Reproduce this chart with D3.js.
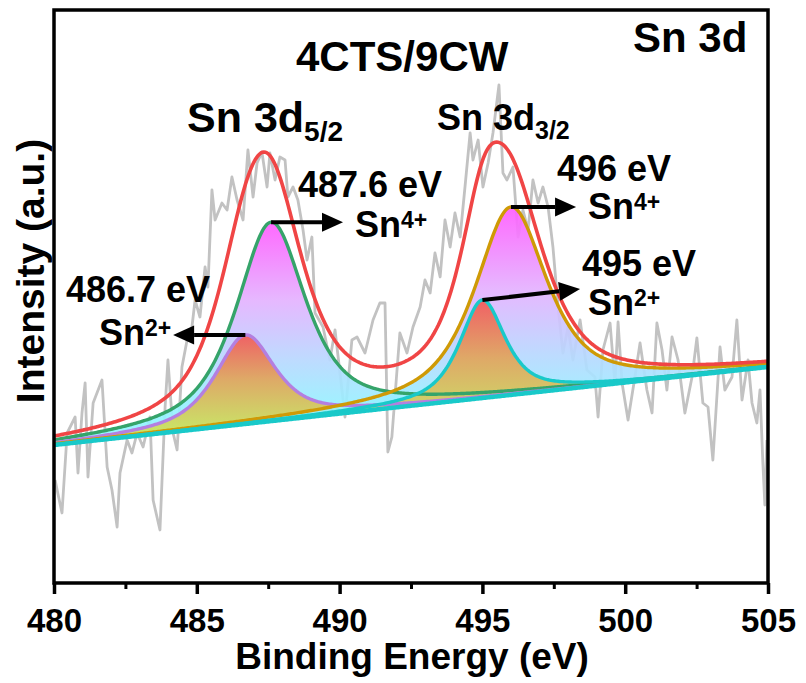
<!DOCTYPE html>
<html>
<head>
<meta charset="utf-8">
<script src="https://d3js.org/d3.v7.min.js"></script>
<style>
  html, body { margin: 0; padding: 0; background: #fff; }
  svg text { font-family: "Liberation Sans", Arial, sans-serif; font-weight: bold; fill: #000; }
</style>
</head>
<body>
<div id="chart"></div>
<script>
// raw spectrum (binding energy, intensity a.u.)
const rawE = [480.04,480.11,480.28,480.46,480.74,480.84,480.98,481.09,481.19,481.37,
  481.68,481.86,482.03,482.21,482.31,482.56,482.73,482.91,483.12,483.36,
  483.47,483.71,483.89,483.99,484.17,484.31,484.48,484.66,484.83,484.94,
  485.11,485.29,485.39,485.53,485.64,485.88,486.06,486.23,486.41,486.62,
  486.79,486.97,487.11,487.28,487.46,487.56,487.74,487.91,488.09,488.19,
  488.37,488.54,488.72,488.86,489.03,489.14,489.42,489.66,489.84,490.19,
  490.43,490.61,490.89,491.17,491.41,491.59,491.69,491.83,492.11,492.36,
  492.57,492.82,492.99,493.17,493.34,493.52,493.69,493.87,494.04,494.22,
  494.39,494.57,494.67,494.85,495.02,495.20,495.37,495.58,495.72,495.86,
  496.07,496.25,496.42,496.60,496.77,496.95,497.12,497.30,497.47,497.65,
  497.82,498.00,498.17,498.42,498.66,498.94,499.05,499.22,499.47,499.64,
  499.75,499.89,500.10,500.34,500.52,500.76,500.94,501.11,501.29,501.46,
  501.64,501.85,502.09,502.34,502.51,502.72,502.90,503.07,503.32,503.49,
  503.74,503.91,504.09,504.30,504.44,504.61,504.72,504.82,504.89,504.96];
const rawI = [103,93,70,150,166,110,170,200,106,180,
  203,116,93,56,110,143,130,150,136,166,
  83,53,176,223,150,133,216,243,256,283,
  266,316,296,393,363,380,373,406,383,363,
  433,386,420,431,396,430,403,426,423,386,
  396,383,353,323,346,270,256,223,253,166,
  243,246,230,263,280,280,131,146,250,230,
  256,276,303,290,330,306,363,336,370,346,
  396,450,423,443,396,420,450,498,410,403,
  416,346,373,353,403,380,396,376,336,276,
  230,256,223,263,213,206,166,233,260,200,
  261,200,163,206,240,193,170,260,233,193,
  246,223,170,206,245,180,176,123,236,193,
  206,263,183,223,180,160,193,120,78,143];

// background (read at a few energies)
const bgE = [480, 492.1, 505];
const bgI = [138, 176, 216];

// fitted components
const peakNames = ["Sn2+ 3d5/2", "Sn4+ 3d5/2", "Sn2+ 3d3/2", "Sn4+ 3d3/2"];
const peakCenter = [486.7, 487.6, 495.0, 496.0];
const peakHeight = [89, 199, 98, 188];
const peakFwhm = [2.5, 2.9, 1.9, 3.0];
const peakMix = [0.75, 0.75, 0.75, 0.75];   // Lorentzian fraction
const peakColor = ["#b47fe0", "#35a46a", "#19c9c9", "#cf9a06"];
const peakFill = ["sn2", "sn4", "sn2", "sn4"];
const drawOrder = [1, 0, 3, 2];

const xTicks = [480, 485, 490, 495, 500, 505];
const xMinor = [482.5, 487.5, 492.5, 497.5, 502.5];

const W = 806, H = 683;
const margin = { left: 54, top: 10, right: 38, bottom: 100 };
const x = d3.scaleLinear().domain([480, 505]).range([margin.left, W - margin.right]);
const y = d3.scaleLinear().domain([0, 573]).range([H - margin.bottom, margin.top]);
const bg = d3.scaleLinear().domain(bgE).range(bgI);

function gl(e, i) {
  const t = (e - peakCenter[i]) / peakFwhm[i];
  const m = peakMix[i];
  return peakHeight[i] * (m / (1 + 4 * t * t) + (1 - m) * Math.exp(-4 * Math.LN2 * t * t));
}

const grid = d3.range(480, 505.0001, 0.05);

const svg = d3.select("#chart").append("svg")
  .attr("width", W).attr("height", H);

const defs = svg.append("defs");
defs.append("clipPath").attr("id", "clip").append("rect")
  .attr("x", x(480)).attr("y", y(573)).attr("width", x(505) - x(480)).attr("height", y(0) - y(573));

const grads = {
  sn4: [["0%", "#ff5cff"], ["35%", "#e4b2ff"], ["62%", "#b8d8ff"], ["82%", "#98f0ff"], ["100%", "#8ef6ff"]],
  sn2: [["0%", "#f25858"], ["40%", "#e2a45a"], ["100%", "#c8f45a"]]
};
Object.keys(grads).forEach(k => {
  const g = defs.append("linearGradient").attr("id", "g-" + k)
    .attr("x1", 0).attr("y1", 0).attr("x2", 0).attr("y2", 1);
  grads[k].forEach(s => g.append("stop").attr("offset", s[0]).attr("stop-color", s[1]));
});

const plot = svg.append("g").attr("clip-path", "url(#clip)");

// raw data
plot.append("path")
  .datum(rawE.map((e, i) => [e, rawI[i]]))
  .attr("fill", "none")
  .attr("stroke", "#c2c2c2")
  .attr("stroke-width", 2.8)
  .attr("stroke-linejoin", "round")
  .attr("d", d3.line().x(d => x(d[0])).y(d => y(d[1])));

// component fills
drawOrder.forEach(i => {
  const area = d3.area()
    .x(e => x(e))
    .y0(e => y(bg(e)))
    .y1(e => y(bg(e) + gl(e, i)));
  plot.append("path")
    .datum(grid)
    .attr("fill", "url(#g-" + peakFill[i] + ")")
    .attr("fill-opacity", 0.92)
    .attr("d", area);
});

// component lines
drawOrder.forEach(i => {
  plot.append("path")
    .datum(grid)
    .attr("fill", "none")
    .attr("stroke", peakColor[i])
    .attr("stroke-width", 3.4)
    .attr("d", d3.line().x(e => x(e)).y(e => y(bg(e) + gl(e, i))));
});

// background
plot.append("path")
  .datum(grid)
  .attr("fill", "none")
  .attr("stroke", "#19c9c9")
  .attr("stroke-width", 4.5)
  .attr("d", d3.line().x(e => x(e)).y(e => y(bg(e))));

// envelope
plot.append("path")
  .datum(grid)
  .attr("fill", "none")
  .attr("stroke", "#f04545")
  .attr("stroke-width", 3.6)
  .attr("d", d3.line().x(e => x(e)).y(e => y(bg(e) + d3.sum(peakCenter, (c, i) => gl(e, i)))));

// frame
svg.append("rect")
  .attr("x", x(480)).attr("y", y(573))
  .attr("width", x(505) - x(480)).attr("height", y(0) - y(573))
  .attr("fill", "none").attr("stroke", "#000").attr("stroke-width", 3.5);

// x axis
const xAxis = svg.append("g")
  .attr("transform", `translate(0,${y(0)})`)
  .call(d3.axisBottom(x).tickValues(xTicks).tickSize(11).tickFormat(d3.format("d")));
xAxis.select(".domain").remove();
xAxis.selectAll(".tick line").attr("stroke", "#000").attr("stroke-width", 3.5);
xAxis.selectAll(".tick text").attr("font-size", 33).attr("y", 49).attr("dy", 0)
  .style("font-family", '"Liberation Sans", Arial, sans-serif').style("font-weight", "bold");
const xMin = svg.append("g")
  .attr("transform", `translate(0,${y(0)})`)
  .call(d3.axisBottom(x).tickValues(xMinor).tickSize(6).tickFormat(""));
xMin.select(".domain").remove();
xMin.selectAll(".tick line").attr("stroke", "#000").attr("stroke-width", 3);

svg.append("text").attr("x", 412).attr("y", 669).attr("text-anchor", "middle")
  .attr("font-size", 37).text("Binding Energy (eV)");
svg.append("text").attr("transform", "translate(44,271) rotate(-90)").attr("text-anchor", "middle")
  .attr("font-size", 39).text("Intensity (a.u.)");

// titles
svg.append("text").attr("x", 296).attr("y", 71).attr("font-size", 42).text("4CTS/9CW");
svg.append("text").attr("x", 633).attr("y", 52).attr("font-size", 42).text("Sn 3d");

function subLabel(px, py, main, sub, fs, sfs, dy) {
  const t = svg.append("text").attr("x", px).attr("y", py).attr("font-size", fs);
  t.append("tspan").text(main);
  t.append("tspan").attr("font-size", sfs).attr("dy", dy).text(sub);
}
subLabel(187, 132, "Sn 3d", "5/2", 43, 28, 9);
subLabel(437, 130, "Sn 3d", "3/2", 36, 25, 9);

// annotations
const annText = [["487.6 eV", 298, 197], ["486.7 eV", 66, 302], ["496 eV", 557, 181], ["495 eV", 582, 276]];
annText.forEach(a => svg.append("text").attr("x", a[1]).attr("y", a[2]).attr("font-size", 36).text(a[0]));
const ionText = [["4+", 355, 237], ["2+", 99, 345], ["4+", 588, 219], ["2+", 588, 315]];
ionText.forEach(a => subLabel(a[1], a[2], "Sn", a[0], 36, 23, -9));

// arrows: from peak top to label (energy, intensity)
const arrowEnd = [[484.17, 250], [490.12, 361], [498.42, 294], [498.28, 376]];
const arrowPeak = [0, 1, 2, 3];
arrowPeak.forEach((p, k) => {
  const x0 = x(peakCenter[p]), y0 = y(bg(peakCenter[p]) + peakHeight[p]);
  const x1 = x(arrowEnd[k][0]), y1 = y(p === 2 ? arrowEnd[k][1] : bg(peakCenter[p]) + peakHeight[p]);
  const ang = Math.atan2(y1 - y0, x1 - x0);
  const hl = 21, hw = 9.5;
  const bx = x1 - hl * Math.cos(ang), by = y1 - hl * Math.sin(ang);
  svg.append("line").attr("x1", x0).attr("y1", y0).attr("x2", bx).attr("y2", by)
    .attr("stroke", "#000").attr("stroke-width", 4);
  svg.append("path")
    .attr("d", `M${x1},${y1}L${bx - hw * Math.sin(ang)},${by + hw * Math.cos(ang)}L${bx + hw * Math.sin(ang)},${by - hw * Math.cos(ang)}Z`)
    .attr("fill", "#000");
});
</script>
</body>
</html>
